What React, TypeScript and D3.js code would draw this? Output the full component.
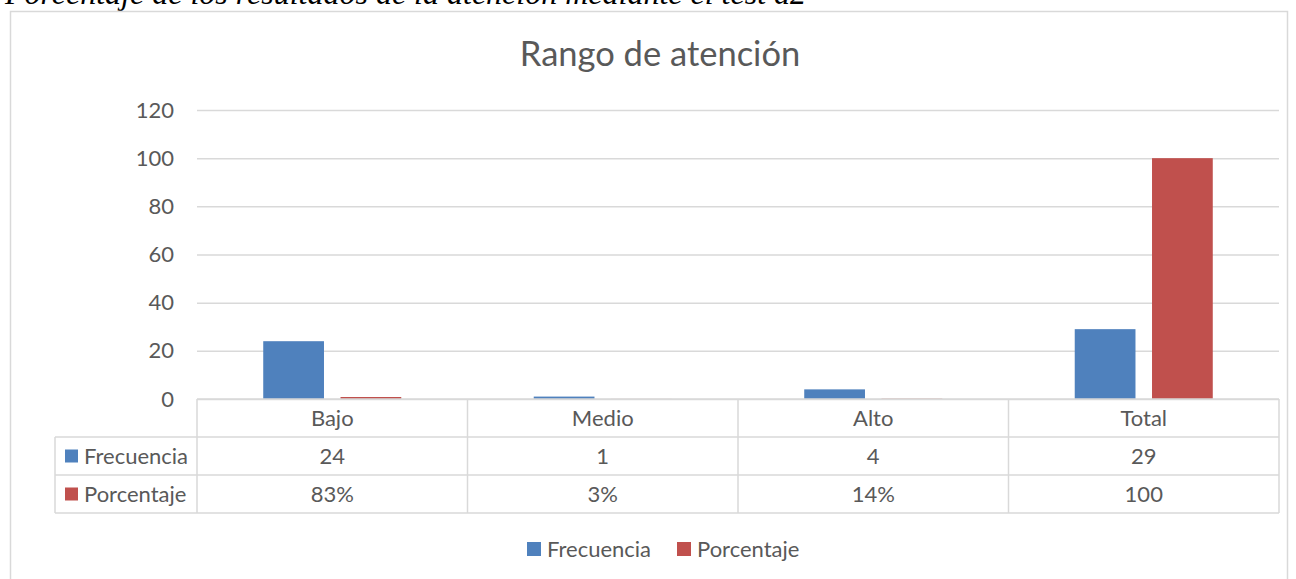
import { useEffect, useRef } from "react";
import * as d3 from "d3";

const categories = ["Bajo", "Medio", "Alto", "Total"];
const series = ["Frecuencia", "Porcentaje"];
const frecuencia = [24, 1, 4, 29];
const porcentaje = [0.83, 0.03, 0.14, 100];
const frecuenciaLabels = ["24", "1", "4", "29"];
const porcentajeLabels = ["83%", "3%", "14%", "100"];
const yTicks = [0, 20, 40, 60, 80, 100, 120];
const colors = ["#4F81BD", "#C0504D"];

const FONT = "Lato, 'Open Sans', sans-serif";
const TXT = "#595959";
const GRID = "#d9d9d9";

export default function App() {
  const ref = useRef<SVGSVGElement>(null);

  useEffect(() => {
    const el = ref.current;
    if (!el) return;
    document.body.style.margin = "0";

    const W = 1296;
    const H = 579;
    const M = { top: 110, right: 17, bottom: 180, left: 197 };
    const rowH = 38;
    const fs = 22;

    const svg = d3.select(el);
    svg.selectAll("*").remove();
    svg.attr("width", W).attr("height", H).attr("viewBox", `0 0 ${W} ${H}`);

    svg.append("rect").attr("width", W).attr("height", H).attr("fill", "#fff");

    // caption above the chart (cut off at the top, as in the source page)
    svg.append("text")
      .attr("x", 5).attr("y", 4)
      .attr("font-family", "'Liberation Serif', serif")
      .attr("font-style", "italic")
      .attr("font-size", 32)
      .attr("fill", "#000")
      .text("Porcentaje de los resultados de la atención mediante el test d2");

    // chart frame
    svg.append("rect")
      .attr("x", 10.5).attr("y", 11.5)
      .attr("width", 1277).attr("height", 600)
      .attr("fill", "#fff").attr("stroke", GRID).attr("stroke-width", 1.5);

    const y = d3.scaleLinear().domain([0, 120]).range([399, M.top]);
    const x = d3.scaleBand().domain(categories).range([M.left, W - M.right]);
    const xs = d3.scaleBand().domain(series).range([0, x.bandwidth()])
      .paddingInner(0.214).paddingOuter(0.857);

    svg.append("text")
      .attr("x", 660).attr("y", 66)
      .attr("text-anchor", "middle")
      .attr("font-family", FONT).attr("font-size", 34.5)
      .attr("fill", TXT)
      .text("Rango de atención");

    // grid
    const axis = svg.append("g")
      .attr("transform", `translate(${M.left},0)`)
      .call(d3.axisLeft(y).tickValues(yTicks).tickSize(-(W - M.right - M.left)).tickPadding(23))
      .call((g) => g.select(".domain").remove());
    axis.selectAll(".tick line").attr("stroke", GRID).attr("stroke-width", 1.5);
    axis.selectAll(".tick text")
      .attr("fill", TXT).attr("font-family", FONT).attr("font-size", fs);

    const values = [frecuencia, porcentaje];
    values.forEach((vals, si) => {
      svg.append("g").selectAll("rect")
        .data(vals).join("rect")
        .attr("x", (_, i) => (x(categories[i]) ?? 0) + (xs(series[si]) ?? 0))
        .attr("width", xs.bandwidth())
        .attr("y", (d) => y(d))
        .attr("height", (d) => y(0) - y(d))
        .attr("fill", colors[si]);
    });

    // data table
    const tbl = svg.append("g").attr("font-family", FONT).attr("font-size", fs).attr("fill", TXT);
    const top = y(0);
    const left = 55;
    const right = W - M.right;
    const lineAttrs = (s: d3.Selection<SVGLineElement, unknown, null, undefined>) =>
      s.attr("stroke", GRID).attr("stroke-width", 1.5);

    tbl.append("line").attr("x1", M.left).attr("x2", right).attr("y1", top).attr("y2", top).call(lineAttrs);
    [1, 2, 3].forEach((r) => {
      tbl.append("line").attr("x1", left).attr("x2", right)
        .attr("y1", top + r * rowH).attr("y2", top + r * rowH).call(lineAttrs);
    });
    tbl.append("line").attr("x1", left).attr("x2", left).attr("y1", top + rowH).attr("y2", top + 3 * rowH).call(lineAttrs);
    [...categories.map((c) => x(c) ?? 0), right].forEach((vx) => {
      tbl.append("line").attr("x1", vx).attr("x2", vx).attr("y1", top).attr("y2", top + 3 * rowH).call(lineAttrs);
    });

    const cx = (c: string) => (x(c) ?? 0) + x.bandwidth() / 2;
    categories.forEach((c) => {
      tbl.append("text").attr("x", cx(c)).attr("y", top + rowH / 2).attr("dy", "0.35em")
        .attr("text-anchor", "middle").text(c);
    });
    [frecuenciaLabels, porcentajeLabels].forEach((labels, si) => {
      const ry = top + (si + 1) * rowH + rowH / 2;
      tbl.append("rect").attr("x", 65).attr("y", ry - 6.5).attr("width", 13).attr("height", 13).attr("fill", colors[si]);
      tbl.append("text").attr("x", 84).attr("y", ry).attr("dy", "0.35em").text(series[si]);
      labels.forEach((l, i) => {
        tbl.append("text").attr("x", cx(categories[i])).attr("y", ry).attr("dy", "0.35em")
          .attr("text-anchor", "middle").text(l);
      });
    });

    // legend
    const leg = svg.append("g").attr("font-family", FONT).attr("font-size", fs).attr("fill", TXT);
    const legX = [527, 677];
    series.forEach((s, i) => {
      leg.append("rect").attr("x", legX[i]).attr("y", 542).attr("width", 14).attr("height", 14).attr("fill", colors[i]);
      leg.append("text").attr("x", legX[i] + 20).attr("y", 549).attr("dy", "0.35em").text(s);
    });
  }, []);

  return <svg ref={ref} style={{ display: "block" }} />;
}
